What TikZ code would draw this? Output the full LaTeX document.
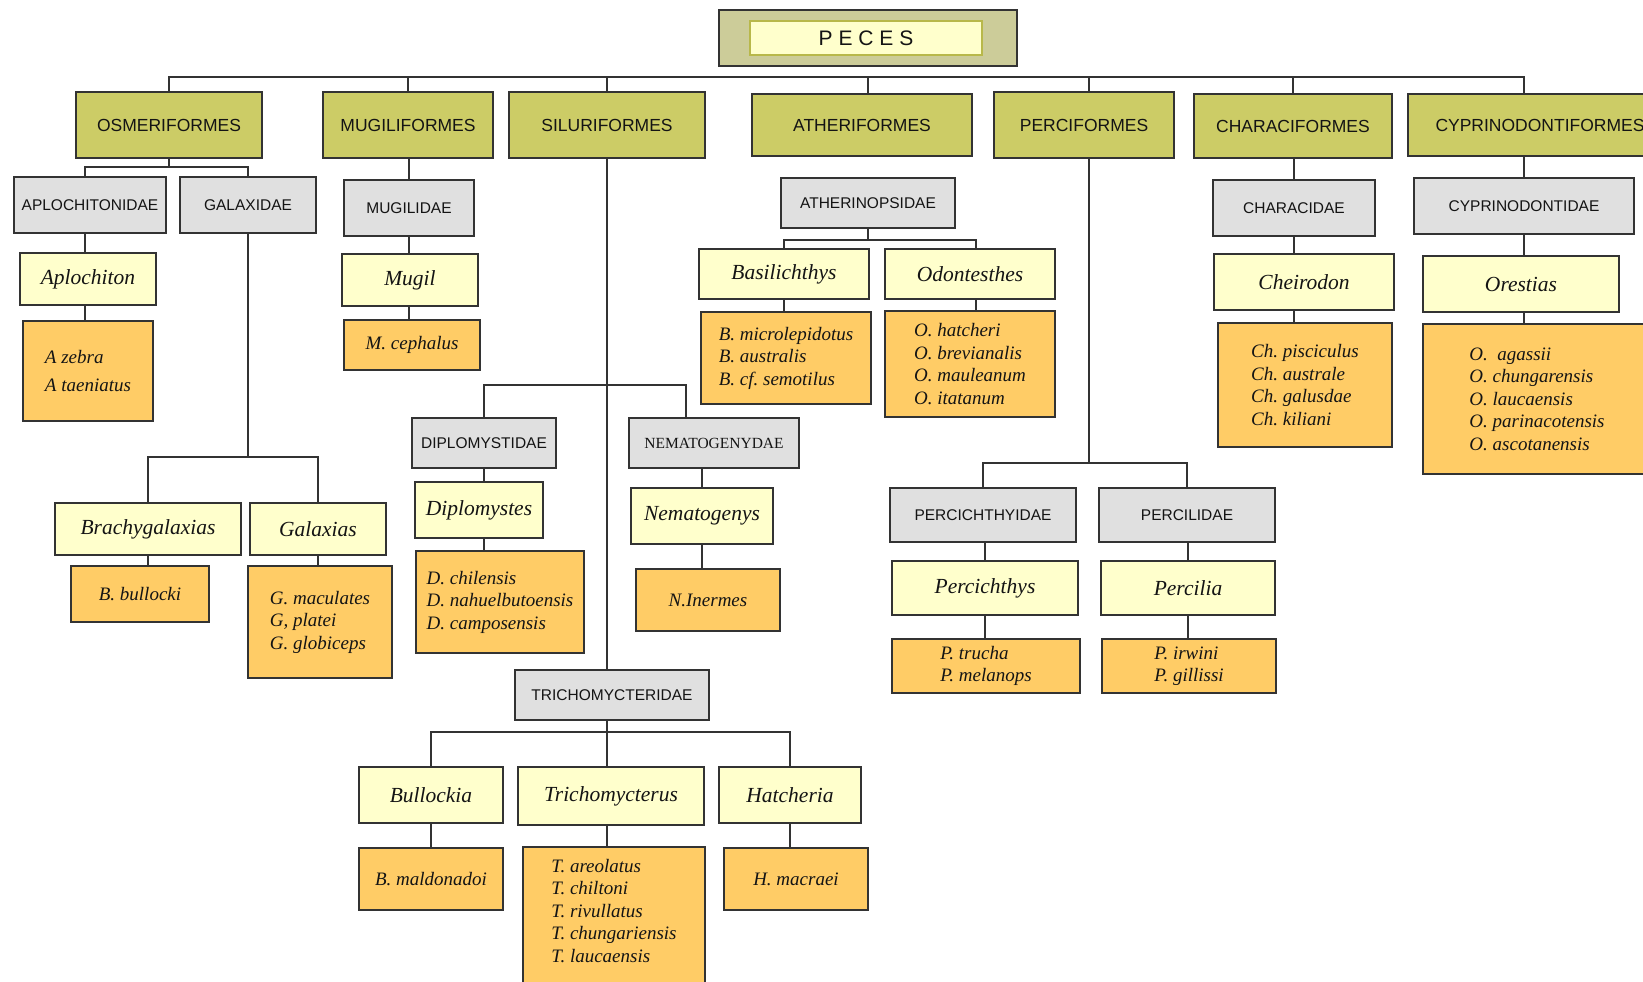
\documentclass[tikz,border=0pt]{standalone}
\usepackage{fontspec}
\setmainfont{Liberation Serif}
\newfontfamily\sansf{Liberation Sans}
\usetikzlibrary{calc}
\definecolor{ordc}{HTML}{CCCC66}
\definecolor{pecc}{HTML}{CCCC99}
\definecolor{pecb}{HTML}{B8B84A}
\definecolor{famc}{HTML}{E0E0E0}
\definecolor{genc}{HTML}{FFFFCC}
\definecolor{sppc}{HTML}{FFCC66}
\definecolor{edge}{HTML}{333333}
\definecolor{txt}{HTML}{141414}
\newcommand\fOrd{\sansf\fontsize{17.5}{21}\selectfont}
\newcommand\fFam{\sansf\fontsize{15.5}{18}\selectfont}
\newcommand\fNem{\rmfamily\fontsize{15.5}{18}\selectfont}
\newcommand\fGen{\rmfamily\itshape\fontsize{21.5}{25}\selectfont}
\newcommand\fSpp{\rmfamily\itshape\fontsize{19}{22.5}\selectfont}
\tikzset{
  box/.style={draw=edge, line width=2pt, inner sep=0pt, text=txt, align=center},
  wh/.style 2 args={minimum width=#1pt, minimum height=#2pt},
  ordbox/.style={box, fill=ordc, font=\fOrd},
  fambox/.style={box, fill=famc, font=\fFam},
  genbox/.style={box, fill=genc, font=\fGen},
  sppbox/.style={box, fill=sppc, font=\fSpp, align=left},
  conn/.style={draw=edge, line width=2pt},
}
\begin{document}
\begin{tikzpicture}[x=1pt,y=-1pt]
\useasboundingbox (0,0) rectangle (1643,982);
\clip (0,0) rectangle (1643,982);

% root
\node[box, fill=pecc, wh={298}{56}] (pecesout) at (868,38) {};
\node[box, draw=pecb, line width=1.5pt, fill=genc, wh={232}{34}, font=\sansf\fontsize{21}{24}\selectfont] (peces) at (866,38) {P E C E S};

% orders
\node[ordbox, wh={186}{66}] (osm) at (169,125) {OSMERIFORMES};
\node[ordbox, wh={170}{66}] (mug) at (408,125) {MUGILIFORMES};
\node[ordbox, wh={196}{66}] (sil) at (607,125) {SILURIFORMES};
\node[ordbox, wh={220}{62}] (ath) at (862,125) {ATHERIFORMES};
\node[ordbox, wh={180}{66}] (per) at (1084,125) {PERCIFORMES};
\node[ordbox, wh={198}{64}] (cha) at (1293,126) {CHARACIFORMES};
\node[ordbox, wh={264}{62}] (cyp) at (1540,125) {CYPRINODONTIFORMES};

% families
\node[fambox, wh={152}{56}] (aploc) at (90,205) {APLOCHITONIDAE};
\node[fambox, wh={136}{56}] (galax) at (248,205) {GALAXIDAE};
\node[fambox, wh={130}{56}] (mugid) at (409,208) {MUGILIDAE};
\node[fambox, wh={174}{50}] (atherin) at (868,203) {ATHERINOPSIDAE};
\node[fambox, wh={162}{56}] (charac) at (1294,208) {CHARACIDAE};
\node[fambox, wh={220}{56}] (cyprid) at (1524,206) {CYPRINODONTIDAE};
\node[fambox, wh={144}{50}] (diplo) at (484,443) {DIPLOMYSTIDAE};
\node[fambox, wh={170}{50}, font=\fNem] (nemato) at (714,443) {NEMATOGENYDAE};
\node[fambox, wh={194}{50}] (tricho) at (612,695) {TRICHOMYCTERIDAE};
\node[fambox, wh={186}{54}] (percich) at (983,515) {PERCICHTHYIDAE};
\node[fambox, wh={176}{54}] (percil) at (1187,515) {PERCILIDAE};

% genera
\node[genbox, wh={136}{52}] (aplochiton) at (88,279) {Aplochiton};
\node[genbox, wh={136}{52}] (mugil) at (410,280) {Mugil};
\node[genbox, wh={170}{50}] (basil) at (784,274) {Basilichthys};
\node[genbox, wh={170}{50}] (odont) at (970,274) {Odontesthes};
\node[genbox, wh={180}{56}] (cheir) at (1304,282) {Cheirodon};
\node[genbox, wh={196}{56}] (orest) at (1521,284) {Orestias};
\node[genbox, wh={186}{52}] (brachy) at (148,529) {Brachygalaxias};
\node[genbox, wh={136}{52}] (galaxias) at (318,529) {Galaxias};
\node[genbox, wh={128}{56}] (diplomystes) at (479,510) {Diplomystes};
\node[genbox, wh={142}{56}] (nematogenys) at (702,516) {Nematogenys};
\node[genbox, wh={186}{54}] (percichthys) at (985,588) {Percichthys};
\node[genbox, wh={174}{54}] (percilia) at (1188,588) {Percilia};
\node[genbox, wh={144}{56}] (bullockia) at (431,795) {Bullockia};
\node[genbox, wh={186}{58}] (trichomycterus) at (611,796) {Trichomycterus};
\node[genbox, wh={142}{56}] (hatcheria) at (790,795) {Hatcheria};

% species
\node[sppbox, wh={130}{100}] (azebra) at (88,371) {A~zebra\\[5.5pt]A~taeniatus};
\node[sppbox, wh={136}{50}] (mceph) at (412,345) {M.~cephalus};
\node[sppbox, wh={170}{92}] (bmicro) at (786,358) {B.~microlepidotus\\B.~australis\\B.~cf.~semotilus};
\node[sppbox, wh={170}{106}] (ohatch) at (970,364) {O.~hatcheri\\O.~brevianalis\\O.~mauleanum\\O.~itatanum};
\node[sppbox, wh={174}{124}] (chpisc) at (1305,385) {Ch.~pisciculus\\Ch.~australe\\Ch.~galusdae\\Ch.~kiliani};
\node[sppbox, wh={228}{150}] (oagas) at (1537,399) {O.~~agassii\\O.~chungarensis\\O.~laucaensis\\O.~parinacotensis\\O.~ascotanensis};
\node[sppbox, wh={138}{56}] (bbull) at (140,594) {B.~bullocki};
\node[sppbox, wh={144}{112}] (gmac) at (320,622) {G.~maculates\\G,~platei\\G.~globiceps};
\node[sppbox, wh={168}{102}] (dchil) at (500,602) {D.~chilensis\\D.~nahuelbutoensis\\D.~camposensis};
\node[sppbox, wh={144}{62}] (ninerm) at (708,600) {N.Inermes};
\node[sppbox, wh={188}{54}] (ptrucha) at (986,666) {P.~trucha\\P.~melanops};
\node[sppbox, wh={174}{54}] (pirwini) at (1189,666) {P.~irwini\\P.~gillissi};
\node[sppbox, wh={144}{62}] (bmaldo) at (431,879) {B.~maldonadoi};
\node[sppbox, wh={144}{62}] (hmacr) at (796,879) {H.~macraei};
\node[sppbox, minimum width=182pt, inner ysep=12pt, anchor=north] (tareo) at (614,846) {T.~areolatus\\T.~chiltoni\\T.~rivullatus\\T.~chungariensis\\T.~laucaensis\rule[-40pt]{0pt}{0pt}};

% helper coordinates
\coordinate (bar) at (0,77);
\coordinate (bO) at (0,167);
\coordinate (bG) at (0,457);
\coordinate (bS) at (0,385);
\coordinate (bT) at (0,732);
\coordinate (bA) at (0,240);
\coordinate (bP) at (0,463);
\coordinate (perX) at (1089,0);
\coordinate (nemX) at (686,0);
\coordinate (silX) at (607,0);
\coordinate (aplX) at (85,0);
\coordinate (odX) at (976,0);

% top level
\draw[conn] (osm.north) -- (osm.north |- bar) -- (cyprid.north |- bar) -- (cyprid.north |- cyp.north);
\foreach \n in {mug,sil,cha} \draw[conn] (\n.north) -- (\n.north |- bar);
\draw[conn] (atherin.north |- ath.north) -- (atherin.north |- bar);
\draw[conn] (perX |- per.north) -- (perX |- bar);

% osmeriformes
\draw[conn] (osm.south) -- (osm.south |- bO);
\draw[conn] (aplX |- aploc.north) -- (aplX |- bO) -- (galax.north |- bO) -- (galax.north);
\draw[conn] (aplX |- aploc.south) -- (aplX |- aplochiton.north);
\draw[conn] (aplX |- aplochiton.south) -- (aplX |- azebra.north);
\draw[conn] (galax.south) -- (galax.south |- bG);
\draw[conn] (brachy.north) -- (brachy.north |- bG) -- (galaxias.north |- bG) -- (galaxias.north);
\draw[conn] (brachy.south) -- (brachy.south |- bbull.north);
\draw[conn] (galaxias.south) -- (galaxias.south |- gmac.north);

% mugiliformes
\draw[conn] (mugid.north |- mug.south) -- (mugid.north);
\draw[conn] (mugid.south) -- (mugid.south |- mugil.north);
\draw[conn] (mugid.south |- mugil.south) -- (mugid.south |- mceph.north);

% siluriformes
\draw[conn] (silX |- sil.south) -- (silX |- tricho.north);
\draw[conn] (diplo.north) -- (diplo.north |- bS) -- (nemX |- bS) -- (nemX |- nemato.north);
\draw[conn] (diplo.south) -- (diplo.south |- diplomystes.north);
\draw[conn] (diplo.south |- diplomystes.south) -- (diplo.south |- dchil.north);
\draw[conn] (nematogenys.north |- nemato.south) -- (nematogenys.north);
\draw[conn] (nematogenys.south) -- (nematogenys.south |- ninerm.north);
\draw[conn] (silX |- tricho.south) -- (silX |- trichomycterus.north);
\draw[conn] (bullockia.north) -- (bullockia.north |- bT) -- (hatcheria.north |- bT) -- (hatcheria.north);
\draw[conn] (bullockia.south) -- (bullockia.south |- bmaldo.north);
\draw[conn] (silX |- trichomycterus.south) -- (silX |- tareo.north);
\draw[conn] (hatcheria.south) -- (hatcheria.south |- hmacr.north);

% atheriformes
\draw[conn] (atherin.south) -- (atherin.south |- bA);
\draw[conn] (basil.north) -- (basil.north |- bA) -- (odX |- bA) -- (odX |- odont.north);
\draw[conn] (basil.south) -- (basil.south |- bmicro.north);
\draw[conn] (odX |- odont.south) -- (odX |- ohatch.north);

% perciformes
\draw[conn] (perX |- per.south) -- (perX |- bP);
\draw[conn] (percich.north) -- (percich.north |- bP) -- (percil.north |- bP) -- (percil.north);
\draw[conn] (percichthys.north |- percich.south) -- (percichthys.north);
\draw[conn] (percichthys.south) -- (percichthys.south |- ptrucha.north);
\draw[conn] (percilia.north |- percil.south) -- (percilia.north);
\draw[conn] (percilia.south) -- (percilia.south |- pirwini.north);

% characiformes
\draw[conn] (charac.north |- cha.south) -- (charac.north);
\draw[conn] (charac.south) -- (charac.south |- cheir.north);
\draw[conn] (charac.south |- cheir.south) -- (charac.south |- chpisc.north);

% cyprinodontiformes
\draw[conn] (cyprid.north |- cyp.south) -- (cyprid.north);
\draw[conn] (cyprid.south) -- (cyprid.south |- orest.north);
\draw[conn] (cyprid.south |- orest.south) -- (cyprid.south |- oagas.north);
\end{tikzpicture}
\end{document}
